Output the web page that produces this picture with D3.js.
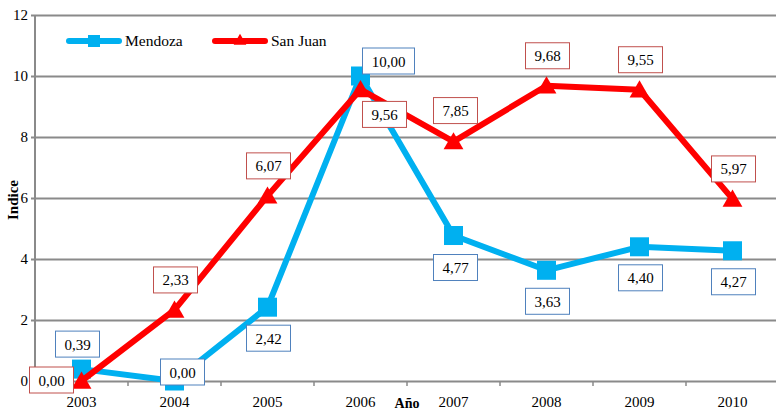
<!DOCTYPE html>
<html>
<head>
<meta charset="utf-8">
<script src="https://cdn.jsdelivr.net/npm/d3@7"></script>
<style>
  html, body { margin: 0; padding: 0; background: #fff; }
  svg { display: block; }
</style>
</head>
<body>
<svg id="chart" width="776" height="414"></svg>
<script>
// Índice anual por provincia, 2003–2010
const years = ["2003", "2004", "2005", "2006", "2007", "2008", "2009", "2010"];
const mendoza = [0.39, 0.00, 2.42, 10.00, 4.77, 3.63, 4.40, 4.27];
const sanJuan = [0.00, 2.33, 6.07, 9.56, 7.85, 9.68, 9.55, 5.97];
const yTicks = [0, 2, 4, 6, 8, 10, 12];
const seriesNames = ["Mendoza", "San Juan"];

// Where each value box sits relative to its point: [dx, dy]
const mendozaLabelPos = [[-4, -25], [8, -9], [1, 31], [28, -15], [2, 32], [1, 31], [1, 31], [1, 31]];
const sanJuanLabelPos = [[-30, -1], [1, -30], [1, -30], [24, 25], [2, -31], [1, -30], [1, -30], [1, -30]];

const fmt = v => d3.format(".2f")(v).replace(".", ",");
const FONT = "Liberation Serif";

const svg = d3.select("#chart").style("font-family", FONT);
const plotLeft = 35, plotRight = 779, plotTop = 15, plotBottom = 381;

const x = d3.scaleBand().domain(years).range([plotLeft, plotRight]);
const y = d3.scaleLinear().domain([0, 12]).range([plotBottom, plotTop]);
const cx = d => x(d) + x.bandwidth() / 2;

const gridColor = "#8a8a8a";

// horizontal gridlines with short left ticks
const yAxis = d3.axisLeft(y).tickValues(yTicks).tickSize(-(776 - plotLeft)).tickPadding(7).tickFormat(d3.format("d"));
const gy = svg.append("g").attr("transform", `translate(${plotLeft},0)`).call(yAxis);
gy.attr("font-family", null).attr("font-size", null);
gy.select(".domain").remove();
gy.selectAll(".tick line").attr("stroke", gridColor).attr("stroke-width", 2).attr("x1", -4);
gy.selectAll(".tick text").attr("fill", "#000").style("font-family", FONT).style("font-size", "15px");

// vertical axis line
svg.append("line").attr("x1", plotLeft).attr("x2", plotLeft).attr("y1", plotTop).attr("y2", plotBottom)
  .attr("stroke", gridColor).attr("stroke-width", 2);

// category ticks on the baseline
const tickXs = years.map(d => x(d)).concat([x(years[years.length - 1]) + x.bandwidth()]);
svg.append("g").selectAll("line").data(tickXs.slice(1)).join("line")
  .attr("x1", d => d).attr("x2", d => d).attr("y1", plotBottom).attr("y2", plotBottom + 5)
  .attr("stroke", gridColor).attr("stroke-width", 1.5);

// year labels
svg.append("g").selectAll("text").data(years).join("text")
  .attr("x", d => cx(d)).attr("y", 407).attr("text-anchor", "middle")
  .style("font-family", FONT).style("font-size", "15px").text(d => d);

// axis titles
svg.append("text").attr("x", 407).attr("y", 408).attr("text-anchor", "middle")
  .style("font-family", FONT).style("font-size", "14px").style("font-weight", "bold").text("Año");
svg.append("text").attr("transform", "translate(18,200) rotate(-90)")
  .attr("text-anchor", "middle").style("font-family", FONT).style("font-size", "15px")
  .style("font-weight", "bold").text("Indice");

const blue = "#00b0f0", red = "#ff0000";
const line = d3.line().x((d, i) => cx(years[i])).y(d => y(d));

const triangle = d3.symbol().type(d3.symbolTriangle).size(170);

function drawSeries(values, color, marker) {
  svg.append("path").datum(values).attr("d", line)
    .attr("fill", "none").attr("stroke", color).attr("stroke-width", 6)
    .attr("stroke-linejoin", "round").attr("stroke-linecap", "round");
  const g = svg.append("g");
  values.forEach((v, i) => {
    if (marker === "square") {
      g.append("rect").attr("x", cx(years[i]) - 9.5).attr("y", y(v) - 9.5)
        .attr("width", 19).attr("height", 19).attr("fill", color);
    } else {
      g.append("path").attr("d", triangle)
        .attr("transform", `translate(${cx(years[i])},${y(v) + 2})`).attr("fill", color);
    }
  });
}

drawSeries(mendoza, blue, "square");
drawSeries(sanJuan, red, "triangle");

// value boxes
function drawLabels(values, pos, border) {
  values.forEach((v, i) => {
    const px = cx(years[i]) + pos[i][0];
    const py = y(v) + pos[i][1];
    const txt = fmt(v);
    const w = txt.length > 4 ? 52 : 44;
    const h = 26;
    svg.append("rect").attr("x", px - w / 2).attr("y", py - h / 2).attr("width", w).attr("height", h)
      .attr("fill", "#fff").attr("stroke", border).attr("stroke-width", 1);
    svg.append("text").attr("x", px).attr("y", py + 5.5).attr("text-anchor", "middle")
      .style("font-family", FONT).style("font-size", "15px").text(txt);
  });
}
drawLabels(mendoza, mendozaLabelPos, "#4f81bd");
drawLabels(sanJuan, sanJuanLabelPos, "#c0504d");

// legend
const legend = svg.append("g");
const legendItems = [
  { name: seriesNames[0], color: blue, marker: "square", x: 67 },
  { name: seriesNames[1], color: red, marker: "triangle", x: 213 }
];
legendItems.forEach(it => {
  legend.append("line").attr("x1", it.x + 2).attr("x2", it.x + 52).attr("y1", 41).attr("y2", 41)
    .attr("stroke", it.color).attr("stroke-width", 6).attr("stroke-linecap", "round");
  if (it.marker === "square") {
    legend.append("rect").attr("x", it.x + 21).attr("y", 35).attr("width", 12).attr("height", 12).attr("fill", it.color);
  } else {
    legend.append("path").attr("d", d3.symbol().type(d3.symbolTriangle).size(70))
      .attr("transform", `translate(${it.x + 27},${41})`).attr("fill", it.color);
  }
  legend.append("text").attr("x", it.x + 58).attr("y", 46)
    .style("font-family", FONT).style("font-size", "15.5px").text(it.name);
});
</script>
</body>
</html>
